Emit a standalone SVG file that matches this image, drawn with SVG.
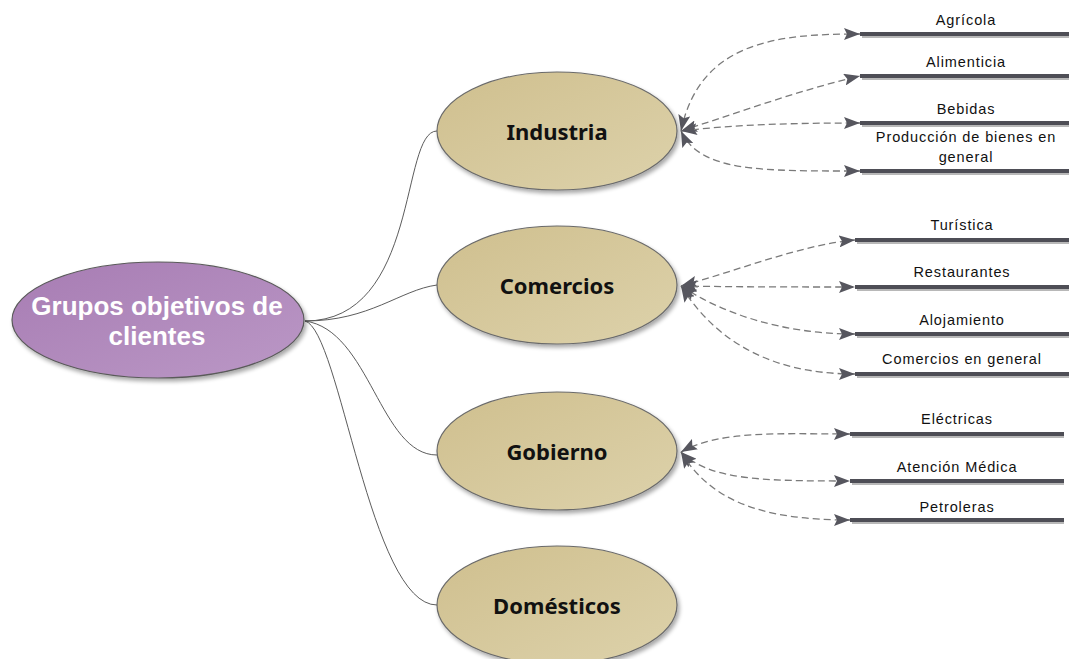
<svg xmlns="http://www.w3.org/2000/svg" width="1069" height="659" viewBox="0 0 1069 659">
<defs>
<linearGradient id="gPurple" x1="0" y1="0" x2="1" y2="1">
<stop offset="0" stop-color="#a77cb3"/><stop offset="1" stop-color="#bb98c6"/>
</linearGradient>
<linearGradient id="gTan" x1="0" y1="0" x2="1" y2="1">
<stop offset="0" stop-color="#cfbf8e"/><stop offset="1" stop-color="#ddd2ab"/>
</linearGradient>
<filter id="sh" x="-10%" y="-10%" width="120%" height="130%">
<feGaussianBlur in="SourceAlpha" stdDeviation="2"/>
<feOffset dx="2" dy="3" result="b"/>
<feComponentTransfer><feFuncA type="linear" slope="0.35"/></feComponentTransfer>
<feMerge><feMergeNode/><feMergeNode in="SourceGraphic"/></feMerge>
</filter>
<marker id="arr" markerUnits="userSpaceOnUse" markerWidth="18" markerHeight="12" viewBox="0 0 18 12" refX="16" refY="6" orient="auto-start-reverse">
<path d="M0,0 L16,6 L0,12 L3,6 Z" fill="#56565e"/>
</marker>
</defs>
<style>
.main{fill:url(#gPurple);stroke:#5a5a5a;stroke-width:1.2;filter:url(#sh)}
.sub{fill:url(#gTan);stroke:#6a6a6a;stroke-width:1.2;filter:url(#sh)}
.mt{font-family:"Liberation Sans",Arial,sans-serif;font-weight:bold;font-size:26px;fill:#fff;text-anchor:middle}
.st{font-family:"Noto Sans","Open Sans",sans-serif;font-weight:bold;font-size:22px;fill:#111;text-anchor:middle}
.lt{font-family:"Liberation Sans",Arial,sans-serif;font-size:14.5px;letter-spacing:0.9px;fill:#111;text-anchor:middle}
.solid{fill:none;stroke:#5c5c5c;stroke-width:1}
.dash{fill:none;stroke:#7a7a7a;stroke-width:1.3;stroke-dasharray:7,4;marker-start:url(#arr);marker-end:url(#arr)}
.bar{stroke:#4e4e56;stroke-width:4}
.barsh{stroke:#b8b8b8;stroke-width:2}
</style>

<g id="connectors">
<path class="solid" d="M305,321 C420,321 400,131 437,131"/>
<path class="solid" d="M305,321 C370,321 400,290 437,285"/>
<path class="solid" d="M305,321 C370,330 380,455 437,455"/>
<path class="solid" d="M305,321 C340,330 370,605 437,605"/>

<path class="dash" d="M681,131 C700,40 780,34 860,34"/>
<path class="dash" d="M681,131 C740,112 800,90 860,76"/>
<path class="dash" d="M681,131 C740,124 800,123 860,123"/>
<path class="dash" d="M681,131 C700,172 760,171 860,171"/>

<path class="dash" d="M681,286 C740,270 800,245 855,240"/>
<path class="dash" d="M681,286 C740,287 800,287 855,287"/>
<path class="dash" d="M681,286 C720,312 780,334 855,334"/>
<path class="dash" d="M681,286 C710,332 760,374 855,374"/>

<path class="dash" d="M681,452 C720,430 780,434 850,434"/>
<path class="dash" d="M681,452 C710,480 760,481 850,481"/>
<path class="dash" d="M681,452 C710,500 760,520 850,520"/>
</g>

<g id="node-main">
<ellipse class="main" cx="158" cy="320" rx="146" ry="58"/>
<text class="mt" x="157" y="315">Grupos objetivos de</text>
<text class="mt" x="157" y="345">clientes</text>
</g>

<g id="node-industria">
<ellipse class="sub" cx="557" cy="131" rx="120" ry="59"/>
<text class="st" x="557" y="140">Industria</text>
</g>
<g id="node-comercios">
<ellipse class="sub" cx="557" cy="285" rx="120" ry="59"/>
<text class="st" x="557" y="294">Comercios</text>
</g>
<g id="node-gobierno">
<ellipse class="sub" cx="557" cy="451" rx="120" ry="59"/>
<text class="st" x="557" y="460">Gobierno</text>
</g>
<g id="node-domesticos">
<ellipse class="sub" cx="557" cy="605" rx="120" ry="59"/>
<text class="st" x="557" y="614">Domésticos</text>
</g>

<g id="leaf-agricola">
<line class="barsh" x1="862" y1="37" x2="1069" y2="37"/><line class="bar" x1="860" y1="34" x2="1069" y2="34"/>
<text class="lt" x="966" y="25">Agrícola</text>
</g>
<g id="leaf-alimenticia">
<line class="barsh" x1="862" y1="79" x2="1069" y2="79"/><line class="bar" x1="860" y1="76" x2="1069" y2="76"/>
<text class="lt" x="966" y="67">Alimenticia</text>
</g>
<g id="leaf-bebidas">
<line class="barsh" x1="862" y1="126" x2="1069" y2="126"/><line class="bar" x1="860" y1="123" x2="1069" y2="123"/>
<text class="lt" x="966" y="114">Bebidas</text>
</g>
<g id="leaf-produccion">
<line class="barsh" x1="862" y1="174" x2="1069" y2="174"/><line class="bar" x1="860" y1="171" x2="1069" y2="171"/>
<text class="lt" x="966" y="142">Producción de bienes en</text>
<text class="lt" x="966" y="162">general</text>
</g>

<g id="leaf-turistica">
<line class="barsh" x1="857" y1="243" x2="1069" y2="243"/><line class="bar" x1="855" y1="240" x2="1069" y2="240"/>
<text class="lt" x="962" y="230">Turística</text>
</g>
<g id="leaf-restaurantes">
<line class="barsh" x1="857" y1="290" x2="1069" y2="290"/><line class="bar" x1="855" y1="287" x2="1069" y2="287"/>
<text class="lt" x="962" y="277">Restaurantes</text>
</g>
<g id="leaf-alojamiento">
<line class="barsh" x1="857" y1="337" x2="1069" y2="337"/><line class="bar" x1="855" y1="334" x2="1069" y2="334"/>
<text class="lt" x="962" y="325">Alojamiento</text>
</g>
<g id="leaf-comercios-general">
<line class="barsh" x1="857" y1="377" x2="1069" y2="377"/><line class="bar" x1="855" y1="374" x2="1069" y2="374"/>
<text class="lt" x="962" y="364">Comercios en general</text>
</g>

<g id="leaf-electricas">
<line class="barsh" x1="852" y1="437" x2="1064" y2="437"/><line class="bar" x1="850" y1="434" x2="1064" y2="434"/>
<text class="lt" x="957" y="424">Eléctricas</text>
</g>
<g id="leaf-atencion">
<line class="barsh" x1="852" y1="484" x2="1064" y2="484"/><line class="bar" x1="850" y1="481" x2="1064" y2="481"/>
<text class="lt" x="957" y="472">Atención Médica</text>
</g>
<g id="leaf-petroleras">
<line class="barsh" x1="852" y1="523" x2="1064" y2="523"/><line class="bar" x1="850" y1="520" x2="1064" y2="520"/>
<text class="lt" x="957" y="512">Petroleras</text>
</g>
</svg>
